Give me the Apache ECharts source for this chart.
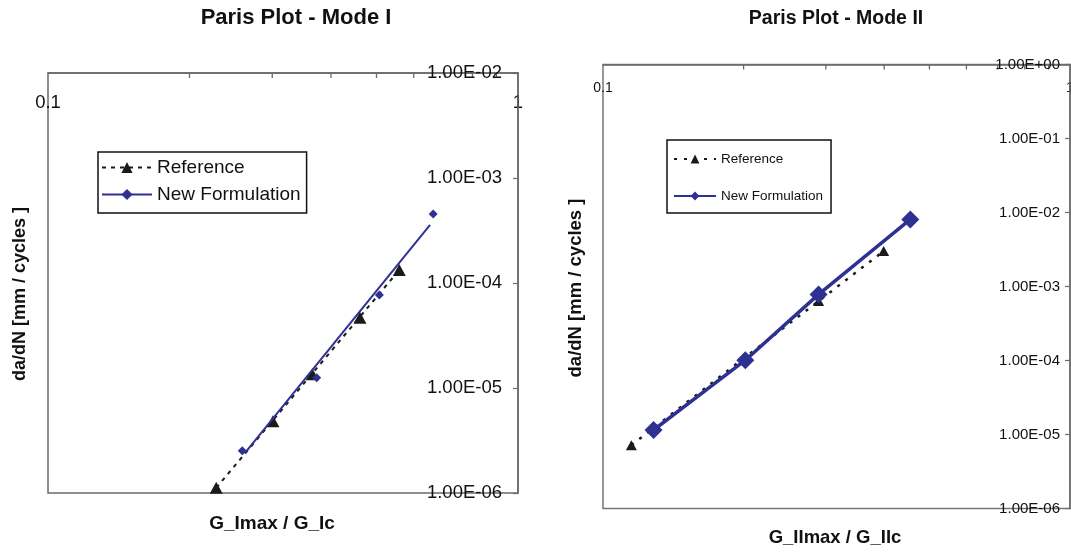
<!DOCTYPE html>
<html><head><meta charset="utf-8">
<script src="https://cdn.jsdelivr.net/npm/echarts@6/dist/echarts.min.js"></script>
<style>
html,body{margin:0;padding:0;background:#fff;width:1071px;height:553px;overflow:hidden}
#c1{position:absolute;left:0;top:0;width:540px;height:553px}
#c2{position:absolute;left:540px;top:0;width:531px;height:553px}
</style>
</head><body><div id="c1"></div><div id="c2"></div>
<script>
// ---------- Mode I data ----------
const modeIRefX = [0.228, 0.301, 0.365, 0.461, 0.559];
const modeIRefY = [1.12e-6, 4.83e-6, 1.35e-5, 4.67e-5, 1.33e-4];
const modeINewX = [0.259, 0.373, 0.507, 0.660];
const modeINewY = [2.52e-6, 1.25e-5, 7.69e-5, 4.55e-4];
// power-law trend lines (end points)
const modeIRefFitX = [0.228, 0.559];
const modeIRefFitY = [1.12e-6, 1.33e-4];
const modeINewFitX = [0.262, 0.650];
const modeINewFitY = [2.39e-6, 3.57e-4];
// ---------- Mode II data ----------
const modeIIRefX = [0.115, 0.2017, 0.2895, 0.399];
const modeIIRefY = [7.18e-6, 1.11e-4, 6.35e-4, 3.01e-3];
const modeIINewX = [0.1283, 0.2017, 0.2895, 0.455];
const modeIINewY = [1.15e-5, 1.01e-4, 7.82e-4, 8.07e-3];
// ---------- axes ----------
const xMinorTicks = [0.2, 0.3, 0.4, 0.5, 0.6, 0.7, 0.8, 0.9];
const modeIYRange = [1e-6, 1e-2];
const modeIIYRange = [1e-6, 1];
const xRange = [0.1, 1];

const FONT = "'Liberation Sans', Arial, Helvetica, sans-serif";
const BLUE = '#2e3192';
const DARK = '#1a1a1a';
const AX = '#6a6a6a';
const TXT = '#111';

function sci(v) {
  if (!(v > 0)) return '';
  let e = Math.floor(Math.log10(v) + 1e-9);
  let m = v / Math.pow(10, e);
  if (m >= 9.995) { m /= 10; e += 1; }
  return m.toFixed(2) + 'E' + (e < 0 ? '-' : '+') + String(Math.abs(e)).padStart(2, '0');
}
function zip(a, b) { return a.map((v, i) => [v, b[i]]); }
function fmtX(v) { return String(+(+v).toPrecision(3)); }

function xAxisCfg(fs, margin) {
  return {
    type: 'log', logBase: 10, min: xRange[0], max: xRange[1], position: 'top',
    axisLine: { show: true, lineStyle: { color: AX, width: 1.5 } },
    axisTick: { show: false },
    axisLabel: { inside: true, margin: margin, fontSize: fs, color: TXT, fontFamily: FONT, formatter: fmtX, showMinLabel: true, showMaxLabel: true },
    splitLine: { show: false }
  };
}
function yAxisCfg(range, fs, margin) {
  return {
    type: 'log', logBase: 10, min: range[0], max: range[1], position: 'right',
    axisLine: { show: true, lineStyle: { color: AX, width: 1.5 } },
    axisTick: { show: true, inside: true, length: 5, lineStyle: { color: AX, width: 1.2 } },
    axisLabel: { inside: true, margin: margin, fontSize: fs, color: TXT, fontFamily: FONT, formatter: sci, showMinLabel: true, showMaxLabel: true },
    splitLine: { show: false }, z: 3
  };
}
function yTitle(text, x, y, fs) {
  return { type: 'text', x: x, y: y, rotation: Math.PI / 2, silent: true,
    style: { text: text, align: 'center', verticalAlign: 'middle', fill: TXT,
      font: 'bold ' + fs + 'px ' + FONT } };
}
function minorTickSeries(yTop) {
  return {
    type: 'scatter', name: 'ticks', silent: true, symbol: 'rect', symbolSize: [1.3, 5], symbolOffset: [0, 2.5],
    itemStyle: { color: AX, opacity: 1 }, data: xMinorTicks.map(v => [v, yTop]), z: 1
  };
}

// ---------------- Chart 1 : Mode I ----------------
const c1 = echarts.init(document.getElementById('c1'), null, { renderer: 'canvas' });
c1.setOption({
  animation: false,
  textStyle: { fontFamily: FONT },
  title: [
    { text: 'Paris Plot - Mode I', left: 296, top: 7, textAlign: 'center', padding: 0,
      textStyle: { fontSize: 22, fontWeight: 'bold', color: TXT, fontFamily: FONT } },
    { text: 'G_Imax / G_Ic', left: 272, top: 514, textAlign: 'center', padding: 0,
      textStyle: { fontSize: 19, fontWeight: 'bold', color: TXT, fontFamily: FONT } }
  ],
  graphic: [yTitle('da/dN [mm / cycles ]', 20, 294, 18)],
  grid: { left: 48, top: 73, width: 470, height: 420, show: true, borderColor: AX, borderWidth: 1.5, outerBoundsMode: 'none', containLabel: false },
  legend: {
    orient: 'vertical', left: 98, top: 152, padding: [6, 6, 9, 3], itemGap: 8,
    itemWidth: 50, itemHeight: 14, borderColor: '#111', borderWidth: 1.5, backgroundColor: '#fff',
    textStyle: { fontSize: 19, color: TXT, fontFamily: FONT },
    data: ['Reference', 'New Formulation']
  },
  xAxis: [xAxisCfg(18.5, 20)],
  yAxis: [yAxisCfg(modeIYRange, 18.5, 16)],
  series: [
    minorTickSeries(modeIYRange[1]),
    { type: 'line', name: 'Reference', data: zip(modeIRefFitX, modeIRefFitY), showSymbol: false, symbol: 'triangle',
      lineStyle: { color: DARK, width: 2, type: [4, 5] }, itemStyle: { color: DARK }, z: 2 },
    { type: 'scatter', name: 'Reference data', data: zip(modeIRefX, modeIRefY), symbol: 'triangle', symbolSize: [13, 12],
      itemStyle: { color: DARK, opacity: 1 }, z: 3 },
    { type: 'line', name: 'New Formulation', data: zip(modeINewFitX, modeINewFitY), showSymbol: false, symbol: 'diamond',
      lineStyle: { color: BLUE, width: 2 }, itemStyle: { color: BLUE }, z: 4 },
    { type: 'scatter', name: 'New Formulation data', data: zip(modeINewX, modeINewY), symbol: 'diamond', symbolSize: 9,
      itemStyle: { color: BLUE, opacity: 1 }, z: 5 }
  ]
});

// ---------------- Chart 2 : Mode II ----------------
const c2 = echarts.init(document.getElementById('c2'), null, { renderer: 'canvas' });
c2.setOption({
  animation: false,
  textStyle: { fontFamily: FONT },
  title: [
    { text: 'Paris Plot - Mode II', left: 296, top: 9, textAlign: 'center', padding: 0,
      textStyle: { fontSize: 19.5, fontWeight: 'bold', color: TXT, fontFamily: FONT } },
    { text: 'G_IImax / G_IIc', left: 295, top: 528, textAlign: 'center', padding: 0,
      textStyle: { fontSize: 18.5, fontWeight: 'bold', color: TXT, fontFamily: FONT } }
  ],
  graphic: [yTitle('da/dN [mm / cycles ]', 36, 288, 18.5)],
  grid: { left: 63, top: 64.5, width: 467, height: 444, show: true, borderColor: '#777', borderWidth: 1.5, outerBoundsMode: 'none', containLabel: false },
  legend: {
    orient: 'vertical', left: 127, top: 140, padding: [12, 8, 10, 6], itemGap: 23,
    itemWidth: 42, itemHeight: 11, borderColor: '#111', borderWidth: 1.5, backgroundColor: '#fff',
    textStyle: { fontSize: 13.5, color: TXT, fontFamily: FONT },
    data: ['Reference', 'New Formulation']
  },
  xAxis: [xAxisCfg(14, 16.5)],
  yAxis: [yAxisCfg(modeIIYRange, 15, 10)],
  series: [
    minorTickSeries(modeIIYRange[1]),
    { type: 'line', name: 'Reference', data: zip(modeIIRefX, modeIIRefY), symbol: 'triangle', symbolSize: [11, 10], showSymbol: true,
      lineStyle: { color: DARK, width: 2.5, type: [3, 7] }, itemStyle: { color: DARK, opacity: 1 }, z: 2 },
    { type: 'line', name: 'New Formulation', data: zip(modeIINewX, modeIINewY), symbol: 'diamond', symbolSize: 18, showSymbol: true,
      lineStyle: { color: BLUE, width: 3.5 }, itemStyle: { color: BLUE, opacity: 1 }, z: 4 }
  ]
});
</script>
</body></html>
